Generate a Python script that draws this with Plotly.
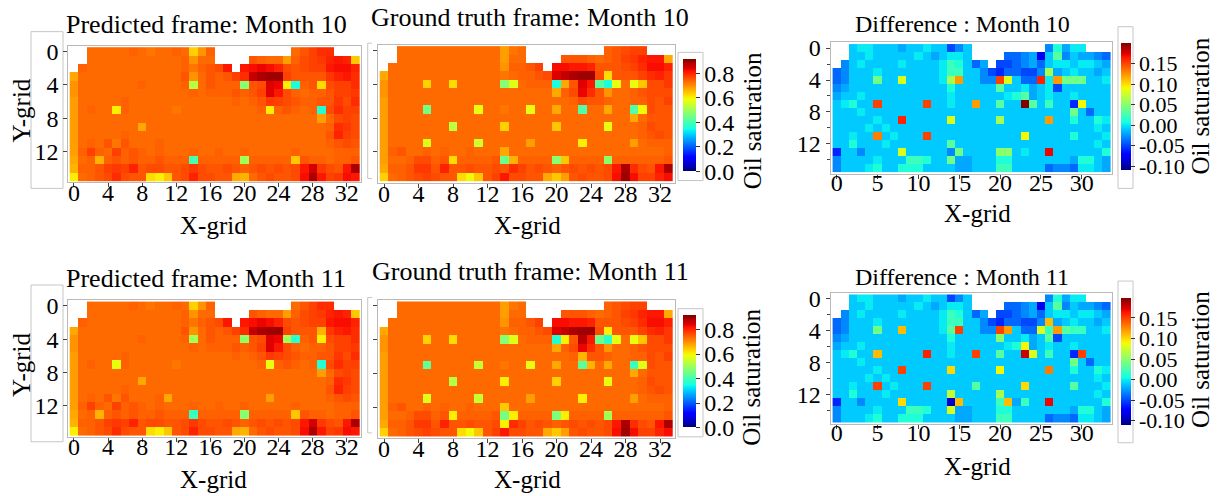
import numpy as np
import plotly.graph_objects as go

W, H = 1219, 496
N = None
FONT = "Liberation Serif, Times New Roman, serif"

# Oil saturation grids (x100), 16 rows (Y-grid 0..15) x 34 columns (X-grid 0..33); None = inactive cell
pred_m10 = [
    [N,N,73,73,73,73,73,74,73,72, 73,73,74,73,63,69,74,N,N,N, N,N,N,N,N,N,73,75,77,79, 79,N,N,N],
    [N,N,73,73,73,73,73,73,73,73, 73,73,73,74,69,73,73,N,N,N, N,75,74,73,73,68,74,76,77,78, 80,81,80,64],
    [N,74,73,73,73,73,73,73,73,73, 73,73,73,74,72,74,75,76,81,N, 81,82,83,82,80,76,75,76,77,77, 81,82,82,80],
    [67,73,73,73,73,73,73,73,73,73, 73,73,73,75,69,73,75,74,75,77, 79,86,88,89,89,77,75,75,75,75, 78,80,81,79],
    [69,73,73,73,73,73,73,73,74,73, 73,73,73,74,52,73,75,74,74,74, 47,75,76,84,83,60,35,74,75,62, 76,77,77,79],
    [69,73,73,73,73,73,73,73,73,73, 73,73,73,73,74,73,74,74,74,75, 74,75,77,84,81,76,74,73,74,74, 75,77,77,78],
    [68,73,73,73,73,73,74,73,73,73, 73,73,73,73,73,73,73,73,73,74, 73,74,75,78,77,76,75,74,74,75, 75,78,76,79],
    [68,73,74,73,73,60,74,73,73,73, 73,73,72,73,73,73,73,73,73,73, 73,73,74,60,74,75,74,73,74,36, 76,79,77,77],
    [68,73,73,73,73,73,73,73,73,73, 73,73,73,73,73,73,73,73,73,73, 73,73,73,73,73,73,73,73,73,68, 73,76,77,76],
    [68,73,73,73,73,73,73,73,67,73, 73,73,73,73,73,73,73,73,73,73, 73,73,73,73,73,73,73,73,73,73, 74,79,78,76],
    [68,73,73,73,73,73,74,73,73,73, 73,73,73,73,73,73,73,73,73,73, 73,73,73,73,73,73,73,73,73,73, 75,80,77,76],
    [68,73,74,73,75,72,75,73,73,73, 74,73,73,73,73,73,73,73,73,73, 73,73,73,73,73,73,73,73,73,73, 74,75,76,75],
    [68,74,77,74,73,77,74,75,74,73, 74,73,73,73,74,73,73,74,73,73, 74,73,73,73,73,73,74,73,73,73, 73,74,74,74],
    [67,73,74,66,74,75,74,75,74,74, 75,74,74,74,40,74,74,74,74,74, 50,74,74,74,74,74,64,75,74,74, 73,74,74,75],
    [66,74,74,75,77,78,77,80,75,76, 76,75,75,76,78,76,75,75,76,75, 74,75,76,75,76,75,76,81,85,78, 76,75,81,88],
    [60,73,74,75,76,79,76,75,75,62, 60,64,75,76,80,76,76,75,75,67, 66,73,75,76,75,75,76,82,88,81, 77,78,82,81],
]

truth_m10 = [
    [N,N,73,73,73,73,73,73,73,73, 73,73,73,73,68,72,73,N,N,N, N,N,N,N,N,N,74,75,76,77, 77,N,N,N],
    [N,N,73,73,73,73,73,73,73,73, 73,73,73,73,68,73,73,N,N,N, N,75,75,75,74,73,74,75,77,78, 80,81,81,67],
    [N,73,73,73,73,73,73,73,73,73, 73,73,73,73,69,74,74,75,77,N, 82,82,81,81,80,75,75,75,76,77, 79,82,82,80],
    [67,73,73,73,73,73,73,73,73,73, 73,73,73,73,72,73,74,74,75,76, 84,86,88,89,89,76,62,75,75,75, 77,79,80,78],
    [69,73,73,73,73,63,73,73,62,73, 73,73,73,73,47,57,73,74,74,74, 35,67,75,84,81,42,35,58,73,58, 64,76,76,78],
    [69,73,73,73,73,73,73,73,73,73, 73,73,73,73,73,73,73,73,73,73, 67,74,76,83,79,75,69,73,73,74, 75,76,76,76],
    [68,73,73,73,73,73,73,73,73,73, 73,73,73,73,73,73,73,73,73,73, 73,73,74,76,75,75,74,73,73,74, 74,76,75,77],
    [68,73,73,73,73,45,73,73,73,73, 73,58,73,73,72,73,73,58,73,73, 67,73,73,41,73,73,67,73,73,41, 59,76,75,75],
    [68,73,73,73,73,73,73,73,73,73, 73,73,73,73,73,73,73,73,73,73, 73,73,73,73,73,73,73,73,73,67, 73,75,75,75],
    [68,73,73,73,73,73,73,73,53,73, 73,73,73,73,63,73,73,73,73,73, 64,73,73,73,73,73,58,73,73,73, 74,76,75,75],
    [68,73,73,73,73,73,73,73,73,73, 73,73,73,73,73,73,73,73,73,73, 73,73,73,73,73,73,73,73,73,73, 74,75,76,75],
    [68,73,73,73,73,57,73,73,73,73, 73,55,73,73,73,73,73,68,73,73, 73,73,73,60,73,73,73,73,73,68, 73,74,74,74],
    [68,74,75,73,73,74,73,74,73,73, 74,73,73,73,67,73,73,73,73,73, 73,73,73,73,73,73,73,73,73,73, 73,73,73,74],
    [68,73,73,74,76,76,74,75,62,74, 74,74,74,75,44,66,74,74,74,74, 47,64,74,74,74,74,48,74,74,74, 74,74,74,75],
    [67,74,74,75,78,78,75,80,75,75, 76,75,75,76,75,79,77,75,76,75, 74,75,76,75,76,75,76,81,88,79, 76,75,81,88],
    [63,73,74,75,76,77,76,75,75,62, 59,64,75,77,81,76,76,75,75,67, 64,68,75,76,75,75,76,82,89,82, 77,77,80,82],
]

pred_m11 = [
    [N,N,73,73,73,73,73,74,73,72, 73,73,74,73,63,69,74,N,N,N, N,N,N,N,N,N,73,75,77,79, 79,N,N,N],
    [N,N,73,73,73,73,73,73,73,73, 73,73,73,74,69,73,73,N,N,N, N,75,74,73,73,68,74,76,77,78, 80,81,80,64],
    [N,74,73,73,73,73,73,73,73,73, 73,73,73,74,72,74,75,76,81,N, 81,82,83,82,80,76,75,76,77,77, 81,82,82,80],
    [67,73,73,73,73,73,73,73,73,73, 73,73,73,75,69,73,75,74,75,77, 79,86,88,89,89,77,75,75,75,66, 78,80,81,79],
    [69,73,73,73,73,73,73,73,74,73, 73,73,73,74,50,73,75,74,74,74, 48,75,76,84,83,50,37,74,75,60, 76,77,77,79],
    [69,73,73,73,73,73,73,73,73,73, 73,73,73,73,74,73,74,74,74,75, 74,75,77,84,81,76,74,73,74,74, 75,77,77,78],
    [68,73,73,73,73,73,74,73,73,73, 73,73,73,73,73,73,73,73,73,74, 73,74,75,78,77,76,75,74,74,75, 75,78,76,79],
    [68,73,74,73,73,58,74,73,73,73, 73,73,72,73,73,73,73,73,73,73, 73,73,74,58,74,75,74,73,74,36, 76,79,77,77],
    [68,73,73,73,73,73,73,73,73,73, 73,73,73,73,73,73,73,73,73,73, 73,73,73,73,73,73,73,73,73,68, 73,76,77,76],
    [68,73,73,73,73,73,73,73,67,73, 73,73,73,73,73,73,73,73,73,73, 73,73,73,73,73,73,73,73,73,73, 74,79,78,76],
    [68,73,73,73,73,73,74,73,73,73, 73,73,73,73,73,73,73,73,73,73, 73,73,73,73,73,73,73,73,73,73, 75,80,77,76],
    [68,73,74,73,75,72,75,73,73,73, 74,67,73,73,73,73,73,73,73,73, 73,73,73,68,73,73,73,73,73,73, 74,75,76,75],
    [68,74,77,74,73,77,74,75,74,73, 74,73,73,73,74,73,73,74,73,73, 74,73,73,73,73,73,74,73,73,73, 73,74,74,74],
    [67,73,74,66,74,75,74,75,74,74, 75,74,74,74,38,74,74,74,74,74, 47,74,74,74,74,74,64,75,74,74, 73,74,74,75],
    [66,74,74,75,77,78,77,80,75,76, 76,75,75,76,78,76,75,75,76,75, 74,75,76,75,76,75,76,81,85,78, 76,75,81,88],
    [60,73,74,75,76,79,76,75,75,62, 60,64,75,76,80,76,76,75,75,67, 66,73,75,76,75,75,76,82,88,81, 77,78,82,81],
]

truth_m11 = [
    [N,N,73,73,73,73,73,73,73,73, 73,73,73,73,68,72,73,N,N,N, N,N,N,N,N,N,74,75,76,77, 77,N,N,N],
    [N,N,73,73,73,73,73,73,73,73, 73,73,73,73,68,73,73,N,N,N, N,75,75,75,74,73,74,75,77,78, 80,81,81,67],
    [N,73,73,73,73,73,73,73,73,73, 73,73,73,73,69,74,74,75,77,N, 82,82,81,81,80,75,75,75,76,77, 79,82,82,80],
    [67,73,73,73,73,73,73,73,73,73, 73,73,73,73,72,73,74,74,75,76, 84,86,88,89,89,76,60,75,75,75, 77,79,80,78],
    [69,73,73,73,73,63,73,73,62,73, 73,73,73,73,47,57,73,74,74,74, 36,60,75,87,81,44,37,58,73,58, 64,76,76,78],
    [69,73,73,73,73,73,73,73,73,73, 73,73,73,73,73,73,73,73,73,73, 67,74,76,83,79,75,69,73,73,74, 75,76,76,76],
    [68,73,73,73,73,73,73,73,73,73, 73,73,73,73,73,73,73,73,73,73, 73,73,74,66,75,75,74,73,73,74, 74,76,75,77],
    [68,73,73,73,73,43,73,73,73,73, 73,54,73,73,72,73,73,58,73,73, 67,73,73,42,66,73,67,73,73,38, 57,76,75,75],
    [68,73,73,73,73,73,73,73,73,73, 73,73,73,73,73,73,73,73,73,73, 73,73,73,73,73,73,73,73,73,67, 73,75,75,75],
    [68,73,73,73,73,73,73,73,52,73, 73,73,73,73,60,73,73,73,73,73, 63,73,73,73,73,73,58,73,73,73, 74,76,75,75],
    [68,73,73,73,73,73,73,73,73,73, 73,73,73,73,73,73,73,73,73,73, 73,73,73,73,73,73,73,73,73,73, 74,75,76,75],
    [68,73,73,73,73,57,73,73,73,73, 73,54,73,73,73,73,73,68,73,73, 73,73,73,60,73,73,73,73,73,68, 73,74,74,74],
    [68,74,75,73,73,74,73,74,73,73, 74,73,73,73,64,73,73,73,73,73, 73,73,73,73,73,73,73,73,73,73, 73,73,73,74],
    [68,73,73,74,76,76,74,75,60,74, 74,74,74,75,45,60,74,74,74,74, 46,60,74,74,74,74,50,74,74,74, 74,74,74,75],
    [67,74,74,75,78,78,75,80,75,75, 76,75,75,76,60,79,77,75,76,75, 74,75,76,75,76,75,76,81,88,79, 76,75,81,88],
    [63,73,74,75,76,77,76,75,75,62, 59,64,75,77,81,76,76,75,75,67, 64,68,75,76,75,75,76,82,89,82, 77,77,80,82],
]

# Predicted minus ground truth (x100)
diff_m10 = [
    [N,N,-1,0,0,-1,-1,-1,-2,-1, -1,0,-1,-1,-5,-3,-1,N,N,N, N,N,N,N,N,N,-3,1,-2,0, 0,N,N,N],
    [N,N,-1,-1,0,-1,-1,-1,-1,-1, 0,-1,-2,-1,0,0,-1,N,N,N, N,-4,-4,-3,-2,-8,-1,3,-3,-1, -2,-2,-3,-4],
    [N,-3,-1,0,-1,-1,-1,-1,0,-1, -1,-1,-1,0,2,1,-1,-4,-2,N, -5,-5,-4,-3,-2,-4,-1,0,0,-1, 0,0,-1,-2],
    [-4,-3,-1,-1,-1,0,-1,-1,-1,-1, -1,-1,-1,0,2,2,-1,-1,-3,-5, -6,-4,-4,-5,-5,-3,6,-2,-1,0, -1,-1,-2,-1],
    [-4,-3,-1,-1,-1,4,-1,-1,8,-1, -1,-1,-1,0,6,12,-1,-1,-3,-3, 15,8,-1,-4,-4,16,0,12,4,4, 4,-1,-1,0],
    [-3,-2,-1,-1,-1,-1,-1,-1,-1,-1, -1,-1,-1,-1,1,-1,-1,-1,-1,-1, 3,-1,-1,0,-2,-1,0,-5,-1,-1, -1,-1,-1,-1],
    [-2,-1,-1,0,-1,-1,-1,-1,-1,-1, -1,-1,-1,-1,0,-1,-1,-1,-1,-1, -1,0,1,3,-2,-1,0,-1,-1,0, -1,-1,-1,-1],
    [-1,0,1,-1,-1,15,-1,-1,-1,-1, -1,15,-1,-1,0,-1,-1,12,-1,-1, 3,-1,-1,20,3,-1,2,-1,-1,-6, 9,-1,-1,-1],
    [-1,-1,-1,0,-1,-1,-1,-1,-1,-1, -1,-1,-1,-1,-1,-1,-1,-1,-1,-1, -1,-1,-1,-1,-1,-1,-1,-1,-1,4, -1,-4,-1,-1],
    [-1,-1,-1,-1,-1,0,-1,-1,16,-1, -1,-1,-1,-1,8,-1,-1,-1,-1,-1, 6,-1,-1,-1,-1,-1,12,-1,-1,1, -1,-1,1,0],
    [-1,-1,-1,-1,0,-1,0,-1,-1,-1, -1,-1,-1,-1,-1,-1,-1,-1,-1,-1, -1,-1,-1,-1,-1,-1,-1,-1,-1,-1, -1,-1,0,-1],
    [-1,-1,0,-1,-1,13,-1,0,-1,-1, -1,15,-1,-1,-1,-1,-1,-1,-1,-1, -1,-1,-1,9,-1,-1,-1,-1,-1,1, -1,-1,-1,0],
    [-1,-1,1,-1,-1,-1,0,-1,-1,-1, -1,-1,-1,-1,3,-1,-1,-1,-1,-1, -1,-1,-1,-1,-1,-1,-1,-1,-1,-1, -1,-1,0,-1],
    [-6,-1,-1,-3,-1,-1,-1,-1,8,-1, -1,-1,-1,-1,-3,4,-1,-1,-1,-1, 5,5,-1,0,-1,-1,17,-1,-1,-1, -1,-1,-1,1],
    [-3,-1,-1,-1,-1,0,-1,-1,-1,2, 2,1,-1,-1,4,-2,-2,-1,-1,-1, 1,1,-1,-1,-1,-1,-1,-1,-1,-2, 1,1,-1,-2],
    [-3,-1,-1,-1,0,1,-1,-1,1,1, 1,-1,-1,-1,-1,-2,-2,-1,-1,-1, 2,2,-1,-1,-1,-1,-4,-3,-3,-4, 0,0,-1,-2],
]

diff_m11 = [
    [N,N,-1,0,0,-1,-1,-1,-2,-1, -1,0,-1,-1,-5,-3,-1,N,N,N, N,N,N,N,N,N,-3,1,-2,0, 0,N,N,N],
    [N,N,-1,-1,0,-1,-1,-1,-1,-1, 0,-1,-2,-1,0,0,-1,N,N,N, N,-4,-4,-3,-2,-8,-1,3,-3,-1, -2,-2,-3,-4],
    [N,-3,-1,0,-1,-1,-1,-1,0,-1, -1,-1,-1,0,2,1,-1,-4,-2,N, -5,-5,-4,-3,-2,-4,-1,0,0,-1, 0,0,-1,-2],
    [-4,-3,-1,-1,-1,0,-1,-1,-1,-1, -1,-1,-1,0,2,2,-1,-1,-3,-5, -6,-4,-4,-5,-5,-3,11,-2,-1,0, -1,-1,-2,-1],
    [-4,-3,-1,-1,-1,4,-1,-1,11,-1, -1,-1,-1,0,3,15,-1,-1,-3,-3, 15,12,-1,-4,-4,8,2,12,3,2, 2,-1,-1,0],
    [-3,-2,-1,-1,-1,-1,-1,-1,-1,-1, -1,-1,-1,-1,1,-1,-1,-1,-1,-1, 5,-1,-1,0,-2,-1,3,-5,-1,-1, -1,-1,-1,-1],
    [-2,-1,-1,0,-1,-1,-1,-1,-1,-1, -1,-1,-1,-1,0,-1,-1,-1,-1,-1, -1,0,1,9,-2,-1,0,-1,-1,0, -1,-1,-1,-1],
    [-1,0,1,-1,-1,11,-1,-1,-1,-1, -1,16,-1,-1,0,-1,-1,15,-1,-1, 3,-1,-1,18,8,-1,2,-1,-1,-6, 15,-1,-1,-1],
    [-1,-1,-1,0,-1,-1,-1,-1,-1,-1, -1,-1,-1,-1,-1,-1,-1,-1,-1,-1, -1,-1,-1,-1,-1,-1,-1,-1,-1,4, -1,-4,-1,-1],
    [-1,-1,-1,-1,-1,0,-1,-1,15,-1, -1,-1,-1,-1,10,-1,-1,-1,-1,-1, 9,-1,-1,-1,-1,-1,13,-1,-1,1, -1,-1,1,0],
    [-1,-1,-1,-1,0,-1,0,-1,-1,-1, -1,-1,-1,-1,-1,-1,-1,-1,-1,-1, -1,-1,-1,-1,-1,-1,-1,-1,-1,-1, -1,-1,0,-1],
    [-1,-1,0,-1,-1,15,-1,0,-1,-1, -1,15,-1,-1,-1,-1,-1,3,-1,-1, -1,-1,-1,10,-1,-1,-1,-1,-1,3, -1,-1,-1,0],
    [-1,-1,1,-1,-1,-1,0,-1,-1,-1, -1,-1,-1,-1,7,-1,-1,-1,-1,-1, 6,-1,-1,-1,-1,-1,-1,-1,-1,-1, -1,-1,0,-1],
    [-6,-1,-1,-3,-1,-1,-1,-1,10,-1, -1,-1,-1,-1,-9,11,-1,-1,-1,-1, 2,11,-2,2,-1,-1,17,-1,-1,-1, -1,-1,-1,1],
    [-3,-1,-1,-1,-1,0,-1,-1,-1,2, 2,1,-1,-1,8,-2,-2,-1,-1,-1, 1,1,-1,-1,-1,-1,-1,-1,-1,-2, 1,1,-1,-2],
    [-3,-1,-1,-1,0,1,-1,-1,1,1, 1,-1,-1,-1,-1,-2,-2,-1,-1,-1, 2,2,-1,-1,-1,-1,-4,-3,-3,-4, 0,0,-1,-2],
]

x_cells = list(range(34))
y_cells = list(range(16))

sat_ticks = [0.0, 0.2, 0.4, 0.6, 0.8]
sat_labels = ["0.0", "0.2", "0.4", "0.6", "0.8"]
diff_ticks = [-0.10, -0.05, 0.0, 0.05, 0.10, 0.15]
diff_labels = ["-0.10", "-0.05", "0.00", "0.05", "0.10", "0.15"]
sat_range = (0.0, 0.915)
diff_range = (-0.11, 0.199)


def jet(n=65):
    pos = np.linspace(0, 1, n)
    r = np.interp(pos, [0, 0.35, 0.66, 0.89, 1], [0, 0, 1, 1, 0.5])
    g = np.interp(pos, [0, 0.125, 0.375, 0.64, 0.91, 1], [0, 0, 1, 1, 0, 0])
    b = np.interp(pos, [0, 0.11, 0.34, 0.65, 1], [0.5, 1, 1, 0, 0])
    return [[float(p), "rgb(%d,%d,%d)" % (round(rr * 255), round(gg * 255), round(bb * 255))]
            for p, rr, gg, bb in zip(pos, r, g, b)]


JET = jet()


def fx(p):
    return p / W


def fy(p):
    return 1 - p / H


fig = go.Figure()
layout = dict(
    width=W, height=H, margin=dict(l=0, r=0, t=0, b=0),
    paper_bgcolor="white", plot_bgcolor="white",
    font=dict(family=FONT, color="black"),
    annotations=[], shapes=[],
)

AX_LINE = "#b9b9b9"


def add_panel(idx, grid, scale, heat_box, pad, xticks, yticks, ylabels, xshift,
              cbar=None, yminor=False):
    x0, x1, y0, y1 = heat_box
    cw = (x1 - x0) / 34.0
    ch = (y1 - y0) / 16.0
    name = "" if idx == 1 else str(idx)
    z = np.array(grid, dtype=float) / 100.0
    zmin, zmax = scale
    tr = go.Heatmap(
        z=z, x=x_cells, y=y_cells, colorscale=JET, zmin=zmin, zmax=zmax,
        xaxis="x" + name, yaxis="y" + name, hoverongaps=False,
        showscale=cbar is not None,
    )
    if cbar is not None:
        tr.colorbar = cbar
    fig.add_trace(tr)
    layout["xaxis" + name] = dict(
        domain=[fx(x0 - pad), fx(x1 + pad)], anchor="y" + name,
        range=[-0.5 - pad / cw, 33.5 + pad / cw],
        tickmode="array", tickvals=xticks, ticktext=[str(v) for v in xticks],
        ticks="outside", ticklen=4, tickcolor="#444", tickwidth=1,
        ticklabelstandoff=xshift,
        showline=True, mirror=True, linecolor=AX_LINE, linewidth=1,
        showgrid=False, zeroline=False,
        tickfont=dict(family=FONT, size=24, color="black"),
    )
    ya = dict(
        domain=[fy(y1 + pad), fy(y0 - pad)], anchor="x" + name,
        range=[15.5 + pad / ch, -0.5 - pad / ch],
        tickmode="array", tickvals=yticks, ticktext=[str(v) for v in yticks],
        showticklabels=ylabels,
        ticks="outside", ticklen=4, tickcolor="#444", tickwidth=1,
        showline=True, mirror=True, linecolor=AX_LINE, linewidth=1,
        showgrid=False, zeroline=False,
        tickfont=dict(family=FONT, size=24, color="black"),
    )
    if yminor:
        ya["minor"] = dict(ticks="outside", ticklen=3, tickcolor="#444", dtick=2, tick0=0)
    layout["yaxis" + name] = ya


def sat_bar(top, bottom):
    return dict(
        x=fx(683), xanchor="left", xpad=0, y=fy((top + bottom) / 2), yanchor="middle",
        len=(bottom - top) / H, lenmode="fraction", ypad=0, thickness=13,
        outlinewidth=0, ticks="outside", ticklen=4, tickcolor="#333",
        tickmode="array", tickvals=sat_ticks, ticktext=sat_labels,
        tickfont=dict(family=FONT, size=24, color="black"),
    )


def diff_bar(top, bottom):
    return dict(
        x=fx(1121), xanchor="left", xpad=0, y=fy((top + bottom) / 2), yanchor="middle",
        len=(bottom - top) / H, lenmode="fraction", ypad=0, thickness=10,
        outlinewidth=0, ticks="outside", ticklen=4, tickcolor="#333",
        tickmode="array", tickvals=diff_ticks, ticktext=diff_labels,
        tickfont=dict(family=FONT, size=22, color="black"),
    )


def text(s, x, y, size, angle=0):
    layout["annotations"].append(dict(
        text=s, x=fx(x), y=fy(y), xref="paper", yref="paper", showarrow=False,
        xanchor="center", yanchor="middle", textangle=angle,
        font=dict(family=FONT, size=size, color="black"),
    ))


def box(x0, y0, x1, y1):
    layout["shapes"].append(dict(
        type="rect", xref="paper", yref="paper", x0=fx(x0), x1=fx(x1), y0=fy(y1), y1=fy(y0),
        line=dict(color="#c6c6c6", width=1), fillcolor="rgba(0,0,0,0)", layer="below",
    ))


def bracket(x, y0, y1, x_end):
    path = "M %f,%f L %f,%f L %f,%f L %f,%f" % (
        fx(x_end), fy(y0), fx(x), fy(y0), fx(x), fy(y1), fx(x_end), fy(y1))
    layout["shapes"].append(dict(
        type="path", xref="paper", yref="paper", path=path,
        line=dict(color="#c6c6c6", width=1), layer="below",
    ))


p_ticks = [0, 4, 8, 12, 16, 20, 24, 28, 32]
d_ticks = [0, 5, 10, 15, 20, 25, 30]
y_ticks = [0, 4, 8, 12]

rows = [
    (0, "10", pred_m10, truth_m10, diff_m10),
    (1, "11", pred_m11, truth_m11, diff_m11),
]
for r, month, pg, tg, dg in rows:
    op = 258 * r   # predicted column
    og = 259 * r   # ground truth column
    od = 254 * r   # difference column
    base = 3 * r
    add_panel(base + 1, pg, sat_range, (69.7, 359.5, 40.8 + op, 176.3 + op), 1.5,
              p_ticks, y_ticks, True, -15)
    add_panel(base + 2, tg, sat_range, (379.7, 673.0, 39.7 + og, 177.0 + og), 1.5,
              p_ticks, y_ticks, False, -15, cbar=sat_bar(52.7 + 260 * r, 166.7 + 260 * r))
    add_panel(base + 3, dg, diff_range, (832.6, 1110.4, 37.6 + od, 167.2 + od), 2.0,
              d_ticks, y_ticks, True, -17, cbar=diff_bar(36.7 + 258 * r, 166.0 + 258 * r),
              yminor=True)

    ot = 257 * r
    text("Predicted frame: Month " + month, 206, 18 + ot, 26)
    text("Ground truth frame: Month " + month, 530, 11 + ot, 26)
    text("Difference : Month " + month, 962, 17 + ot, 24)
    text("X-grid", 213, 222 + ot, 25)
    text("X-grid", 527, 222 + ot, 25)
    text("X-grid", 978, 209 + ot, 25)
    text("Y-grid", 22, 105 + 258 * r, 25, angle=-90)
    text("Oil saturation", 752, 116 + 260 * r, 25, angle=-90)
    text("Oil saturation", 1201, 101 + ot, 25, angle=-90)

    box(31, 25 + 257 * r, 63, 184 + 257 * r)
    bracket(367.7, 36.7 + 258 * r, 174 + 258 * r, 372)
    box(678, 46 + 260 * r, 703, 176 + 260 * r)
    box(1118, 20 + 258 * r, 1133, 184 + 258 * r)

fig.update_layout(**layout)
fig.write_html("out.html")
